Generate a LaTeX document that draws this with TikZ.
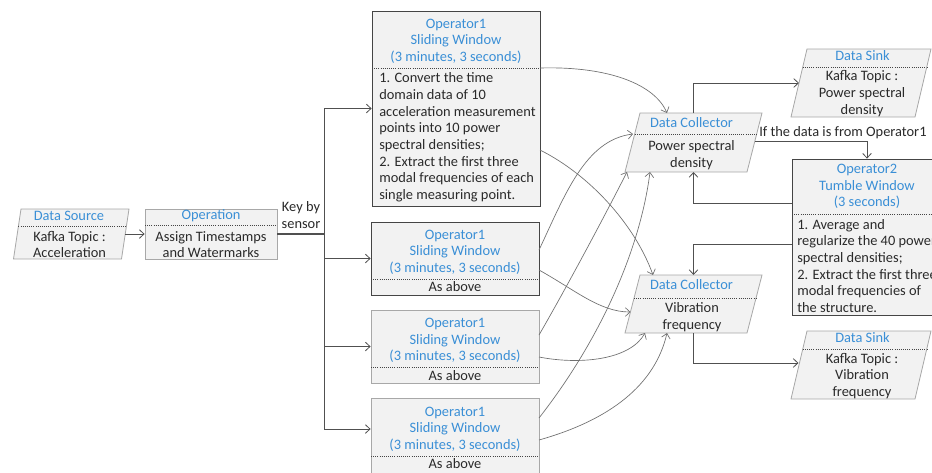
\documentclass[tikz,border=0pt]{standalone}
\usepackage{fontspec}
\setmainfont{Carlito}
\usetikzlibrary{arrows.meta}
\definecolor{hdr}{HTML}{3A8FD6}
\definecolor{boxfill}{HTML}{F2F2F2}
\definecolor{lineg}{HTML}{505050}
\definecolor{curveg}{HTML}{707070}
\definecolor{bordk}{HTML}{454545}
\definecolor{bordl}{HTML}{A8A8A8}
\definecolor{txt}{HTML}{2A2A2A}
\begin{document}
\begin{tikzpicture}[x=0.75pt,y=-0.75pt,
  font=\fontsize{10.8}{12.5}\selectfont,
  box/.style={draw=bordl, fill=boxfill, line width=0.6pt, inner sep=0pt},
  boxd/.style={box, draw=bordk},
  divider/.style={densely dotted, draw=bordk, line width=0.6pt},
  hd/.style={text=hdr, align=center, inner sep=0pt},
  bd/.style={text=txt, align=center, inner sep=0pt},
  bl/.style={text=txt, align=left, inner sep=0pt, anchor=west},
  conn/.style={draw=lineg, line width=0.6pt, -{Straight Barb[length=3.5pt,width=6.5pt]}},
  curv/.style={conn, draw=curveg, line width=0.5pt},
  anch/.style={inner sep=0pt, outer sep=0pt, draw=none}
]
\clip (0,0) rectangle (932,472);
\fill[white] (0,0) rectangle (932,472);

% ---------- Data Source ----------
\node[anch, minimum width=81pt, minimum height=37.5pt] (ds) at (71.25,234) {};
\draw[box] ([xshift=2.8125pt]ds.north west) -- ([xshift=2.8125pt]ds.north east)
  -- ([xshift=-2.8125pt]ds.south east) -- ([xshift=-2.8125pt]ds.south west) -- cycle;
\draw[divider] (18.45,226) -- (126.45,226);
\node[hd] at (69,216) {Data Source};
\node[bd] at (69.5,244.5) {Kafka Topic :\\Acceleration};

% ---------- Operation ----------
\node[box, minimum width=99pt, minimum height=37.5pt] (op) at (211,234) {};
\draw[divider] (145,225) -- (277,225);
\node[hd] at (211,216) {Operation};
\node[bd] at (211,244.5) {Assign Timestamps\\and Watermarks};

\coordinate (dsR) at (125.25,234);
\draw[conn] (dsR) -- (op.west);

% ---------- Key by sensor ----------
\node[bd] (key) at (301,215) {Key by\\sensor};
\coordinate (trunk) at (324,234);
\draw[lineg, line width=0.8pt] (op.east) -- (trunk);

% ---------- Operator1 boxes ----------
\node[boxd, minimum width=126pt, minimum height=146.25pt] (op1a) at (456,108.5) {};
\draw[divider] (372,68) -- (540,68);
\node[hd] at (456,41) {Operator1\\Sliding Window\\(3 minutes, 3 seconds)};
\node[bl] at (379,137.5) {1. Convert the time\\domain data of 10\\acceleration measurement\\points into 10 power\\spectral densities;\\2. Extract the first three\\modal frequencies of each\\single measuring point.};

\node[boxd, minimum width=126pt, minimum height=54.75pt] (op1b) at (455,258.5) {};
\draw[divider] (371,279) -- (539,279);
\node[hd] at (455,252) {Operator1\\Sliding Window\\(3 minutes, 3 seconds)};
\node[bd] at (455,287) {As above};

\node[box, minimum width=126pt, minimum height=54.75pt] (op1c) at (455,346.5) {};
\draw[divider] (371,367) -- (539,367);
\node[hd] at (455,340.5) {Operator1\\Sliding Window\\(3 minutes, 3 seconds)};
\node[bd] at (455,376) {As above};

\node[box, minimum width=126pt, minimum height=58.5pt] (op1d) at (455,437) {};
\draw[divider] (371,456) -- (539,456);
\node[hd] at (455,429) {Operator1\\Sliding Window\\(3 minutes, 3 seconds)};
\node[bd] at (455,464) {As above};

\draw[conn] (trunk) |- (op1a.west);
\draw[conn] (trunk) |- (op1b.west);
\draw[conn] (trunk) |- (op1c.west);
\draw[conn] (trunk) |- ([yshift=6pt]op1d.west);

% ---------- Data Collectors ----------
\node[anch, minimum width=91.5pt, minimum height=44.25pt] (dc1) at (693.5,142.5) {};
\draw[box] ([xshift=5.625pt]dc1.north west) -- ([xshift=5.625pt]dc1.north east)
  -- ([xshift=-5.625pt]dc1.south east) -- ([xshift=-5.625pt]dc1.south west) -- cycle;
\draw[divider] (634.66,134) -- (756.66,134);
\node[hd] at (691.5,123) {Data Collector};
\node[bd] at (691.5,155) {Power spectral\\density};

\node[anch, minimum width=91.5pt, minimum height=43.5pt] (dc2) at (693.5,304) {};
\draw[box] ([xshift=5.625pt]dc2.north west) -- ([xshift=5.625pt]dc2.north east)
  -- ([xshift=-5.625pt]dc2.south east) -- ([xshift=-5.625pt]dc2.south west) -- cycle;
\draw[divider] (634.05,298) -- (756.05,298);
\node[hd] at (691.5,285) {Data Collector};
\node[bd] at (692,317) {Vibration\\frequency};

% ---------- Data Sinks ----------
\node[anch, minimum width=93pt, minimum height=51pt] (ds1) at (861,83) {};
\draw[box] ([xshift=6pt]ds1.north west) -- ([xshift=6pt]ds1.north east)
  -- ([xshift=-6pt]ds1.south east) -- ([xshift=-6pt]ds1.south west) -- cycle;
\draw[divider] (802.76,67) -- (926.76,67);
\node[hd] at (862.5,56) {Data Sink};
\node[bd] at (862,93.5) {Kafka Topic :\\Power spectral\\density};

\node[anch, minimum width=93pt, minimum height=51pt] (ds2) at (861,365) {};
\draw[box] ([xshift=6pt]ds2.north west) -- ([xshift=6pt]ds2.north east)
  -- ([xshift=-6pt]ds2.south east) -- ([xshift=-6pt]ds2.south west) -- cycle;
\draw[divider] (802.76,349) -- (926.76,349);
\node[hd] at (862.5,338) {Data Sink};
\node[bd] at (862,376) {Kafka Topic :\\Vibration\\frequency};

% ---------- Operator2 ----------
\node[boxd, minimum width=112.5pt, minimum height=117pt] (op2) at (867,237) {};
\draw[divider] (792,214) -- (942,214);
\node[hd] at (867,186.5) {Operator2\\Tumble Window\\(3 seconds)};
\node[bl] at (797,266) {1. Average and\\regularize the 40 power\\spectral densities;\\2. Extract the first three\\modal frequencies of\\the structure.};

% ---------- orthogonal connectors ----------
\coordinate (ds1L) at (799,83);
\coordinate (ds2L) at (798.5,363);
\coordinate (dc1R) at (755,141);
\coordinate (op2L1) at (792,203);
\coordinate (op2L2) at (792,244);
\draw[conn] (dc1.north) |- (ds1L);
\draw[conn] (dc2.south) |- (ds2L);
\draw[conn] (dc1R) -| (op2.north);
\node[bd, anchor=west] (iflabel) at (759,133) {If the data is from Operator1};
\draw[conn] (op2L1) -| (dc1.south);
\draw[conn] (op2L2) -| (dc2.north);

% ---------- curved connectors ----------
\coordinate (a1s) at (540,68);   \coordinate (a1e) at (667,113);
\coordinate (a2s) at (540,150);  \coordinate (a2e) at (653,275);
\coordinate (b1s) at (539,250);  \coordinate (b1e) at (633,134);
\coordinate (b2s) at (539,270);  \coordinate (b2e) at (630.5,312);
\coordinate (c1s) at (539,335);  \coordinate (c1e) at (627,172);
\coordinate (c2s) at (539,357);  \coordinate (c2e) at (645,333);
\coordinate (d1s) at (539,418);  \coordinate (d1e) at (650,172);
\coordinate (d2s) at (539,440);  \coordinate (d2e) at (667,333);
\draw[curv] (a1s) .. controls (610,66) and (655,85) .. (a1e);
\draw[curv] (a2s) .. controls (590,175) and (635,225) .. (a2e);
\draw[curv] (b1s) .. controls (565,195) and (585,140) .. (b1e);
\draw[curv] (b2s) .. controls (575,290) and (600,312) .. (b2e);
\draw[curv] (c1s) .. controls (565,290) and (600,225) .. (c1e);
\draw[curv] (c2s) .. controls (580,365) and (630,360) .. (c2e);
\draw[curv] (d1s) .. controls (600,340) and (640,250) .. (d1e);
\draw[curv] (d2s) .. controls (610,420) and (655,385) .. (d2e);
\end{tikzpicture}
\end{document}
